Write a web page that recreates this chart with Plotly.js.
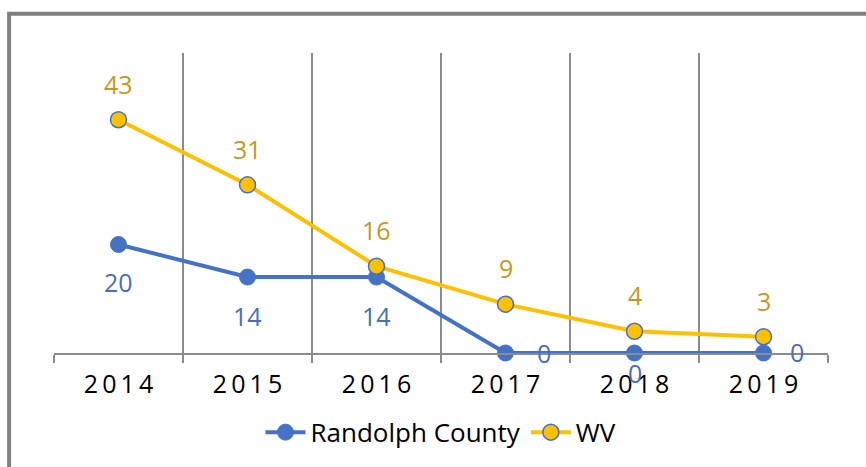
<!DOCTYPE html>
<html><head><meta charset="utf-8">
<script src="https://cdn.plot.ly/plotly-3.0.1.min.js"></script>
<style>body{margin:0;background:#fff}#c{width:866px;height:467px}</style>
</head><body><div id="c"></div>
<script>
const years = ['2014','2015','2016','2017','2018','2019'];
const yearLabels = ['2\u20090\u20091\u20094','2\u20090\u20091\u20095','2\u20090\u20091\u20096','2\u20090\u20091\u20097','2\u20090\u20091\u20098','2\u20090\u20091\u20099'];
const randolph = [20, 14, 14, 0, 0, 0];
const wv = [43, 31, 16, 9, 4, 3];
// label offsets (pixels) for Randolph County data labels
const randXShift = [0, 0, 0, 38, 0, 33];
const randYShift = [-37, -39, -39, 0, -20, 1];

const FONT = 'Open Sans, Lato, sans-serif';
const BLUE = '#4472C4', GOLD = '#FFC000', GOLDTXT = '#C59A1C', BLUETXT = '#4A6FB5';

const traces = [
  {x: years, y: randolph, name: 'Randolph County', type: 'scatter', mode: 'lines+markers', cliponaxis: false,
   line: {color: BLUE, width: 4}, marker: {color: BLUE, size: 16, line: {color: BLUE, width: 1}}},
  {x: years, y: wv, name: 'WV', type: 'scatter', mode: 'lines+markers', cliponaxis: false,
   line: {color: GOLD, width: 4}, marker: {color: GOLD, size: 16, line: {color: BLUE, width: 1.5}}}
];

const annotations = [];
years.forEach((yr, i) => {
  annotations.push({xref: 'x', yref: 'y', x: i, y: wv[i], text: String(wv[i]), showarrow: false, yshift: 36,
    font: {family: FONT, size: 25, color: GOLDTXT}});
  annotations.push({xref: 'x', yref: 'y', x: i, y: randolph[i], text: String(randolph[i]), showarrow: false,
    xshift: randXShift[i], yshift: randYShift[i], font: {family: FONT, size: 25, color: BLUETXT}});
});

const layout = {
  width: 866, height: 467,
  margin: {l: 54, r: 38, t: 53, b: 113},
  paper_bgcolor: '#fff', plot_bgcolor: '#fff',
  font: {family: FONT, size: 25, color: '#000'},
  showlegend: true,
  legend: {orientation: 'h', x: 0.5, xanchor: 'center', y: -0.26, yanchor: 'middle',
    font: {family: FONT, size: 26, color: '#000'}, itemwidth: 40},
  xaxis: {type: 'category', range: [-0.5, 5.5], tickson: 'boundaries',
    tickvals: years, ticktext: yearLabels,
    showgrid: true, gridcolor: '#8c8c8c', gridwidth: 1.5,
    showline: true, linecolor: '#8c8c8c', linewidth: 1.5,
    ticks: 'outside', ticklen: 8, tickcolor: '#8c8c8c', tickwidth: 1.5, ticklabelstandoff: 8,
    tickfont: {family: FONT, size: 25, color: '#000'}, fixedrange: true, zeroline: false},
  yaxis: {range: [0, 55.3], showgrid: false, zeroline: false, showticklabels: false,
    showline: false, ticks: '', fixedrange: true},
  annotations: annotations,
  shapes: [{type: 'rect', xref: 'paper', yref: 'paper', x0: -0.058, x1: 1.2, y0: -0.6, y1: 1.131,
    line: {color: '#808080', width: 4}, fillcolor: 'rgba(0,0,0,0)', layer: 'below'}]
};

Plotly.newPlot('c', traces, layout, {displayModeBar: false, staticPlot: true});
</script></body></html>
